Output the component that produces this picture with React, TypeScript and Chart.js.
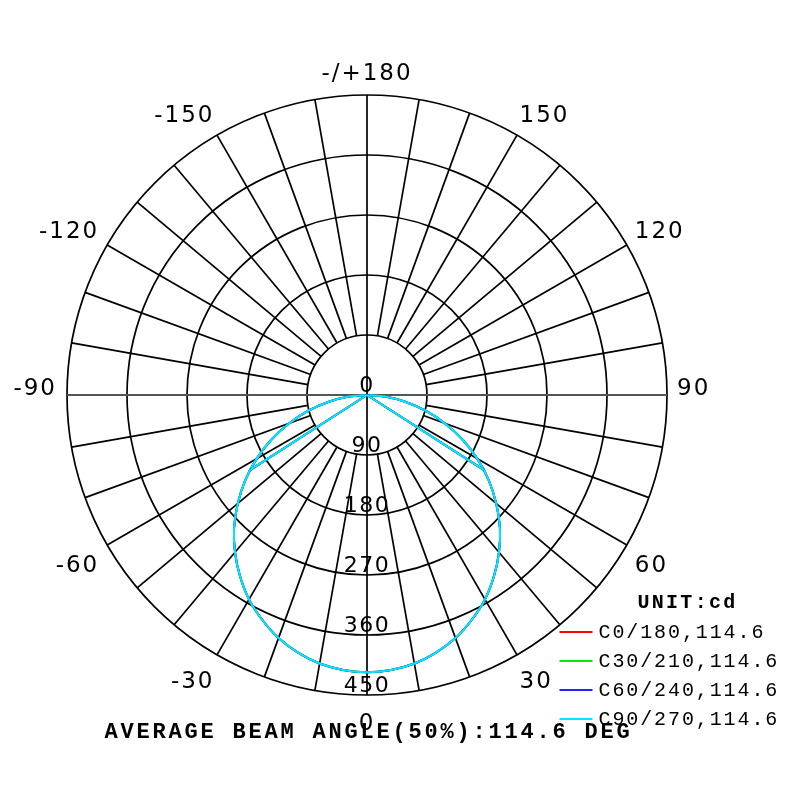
import React, { useEffect, useRef } from "react";
import { Chart, registerables } from "chart.js";

Chart.register(...registerables);

// ---- data -------------------------------------------------------------
// gamma angles (deg) of the measured half-curve, symmetric for each C-plane pair
const gammaAngles = [0, 5, 10, 15, 20, 25, 30, 35, 40, 45, 50, 55, 60, 65, 70, 75, 80, 85, 90];
const c0_180 = [416, 414, 409, 400, 388, 372, 354, 332, 308, 282, 253, 223, 191, 158, 124, 91, 58, 27, 0];
const c30_210 = [416, 414, 409, 400, 388, 372, 354, 332, 308, 282, 253, 223, 191, 158, 124, 91, 58, 27, 0];
const c60_240 = [416, 414, 409, 400, 388, 372, 354, 332, 308, 282, 253, 223, 191, 158, 124, 91, 58, 27, 0];
const c90_270 = [416, 414, 409, 400, 388, 372, 354, 332, 308, 282, 253, 223, 191, 158, 124, 91, 58, 27, 0];

const seriesNames = ["C0/180", "C30/210", "C60/240", "C90/270"];
const seriesColors = ["#ff0000", "#00ee00", "#2020ff", "#00e8ff"];
const beamAngles = [114.6, 114.6, 114.6, 114.6];

const ringTicks = [0, 90, 180, 270, 360, 450];
const angleLabelValues = [0, 30, 60, 90, 120, 150, 180, -150, -120, -90, -60, -30];
const angleLabelTexts = ["0", "30", "60", "90", "120", "150", "-/+180", "-150", "-120", "-90", "-60", "-30"];
const unitLabel = "UNIT:cd";
const titleText = "AVERAGE BEAM ANGLE(50%):114.6 DEG";

const sampleStep = 5; // degrees between radar spokes
const gridStep = 10; // degrees between drawn radial grid lines

// ---- helpers ----------------------------------------------------------
const spokeCount = 360 / sampleStep;
// spoke i sits i*sampleStep degrees clockwise from top; top is 180, bottom is 0
const spokeAngles = Array.from({ length: spokeCount }, (_, i) => 180 - i * sampleStep);

function buildSeries(values: number[]) {
  return spokeAngles.map((a) => {
    const k = gammaAngles.indexOf(Math.abs(a));
    return k >= 0 ? values[k] : 0;
  });
}

// fractional spoke index for a reference angle
function idxFor(a: number) {
  let phi = 180 - a;
  phi = ((phi % 360) + 360) % 360;
  return phi / sampleStep;
}

const allSeries = [c0_180, c30_210, c60_240, c90_270];

const polarPlugin = {
  id: "photometricPolar",
  beforeDatasetsDraw(chart: any) {
    const scale = chart.scales.r;
    const ctx = chart.ctx;
    ctx.save();
    for (let a = -180; a < 180; a += gridStep) {
      const through = a % 90 === 0;
      const i = idxFor(a);
      const p0 = scale.getPointPositionForValue(i, through ? 0 : ringTicks[1]);
      const p1 = scale.getPointPositionForValue(i, scale.max);
      ctx.beginPath();
      ctx.moveTo(p0.x, p0.y);
      ctx.lineTo(p1.x, p1.y);
      const horizontal = Math.abs(a) === 90;
      ctx.strokeStyle = horizontal ? "#555" : "#000";
      ctx.lineWidth = horizontal ? 2.2 : 1.7;
      ctx.stroke();
    }
    ctx.restore();
  },
  afterDatasetsDraw(chart: any) {
    const scale = chart.scales.r;
    const ctx = chart.ctx;
    ctx.save();
    // beam angle (50%) lines, in dataset order so the last plane is on top
    allSeries.forEach((vals, s) => {
      const half = beamAngles[s] / 2;
      const peak = Math.max(...vals);
      ctx.strokeStyle = seriesColors[s];
      ctx.lineWidth = 2;
      [half, -half].forEach((a) => {
        const c = scale.getPointPositionForValue(0, 0);
        const p = scale.getPointPositionForValue(idxFor(a), peak / 2);
        ctx.beginPath();
        ctx.moveTo(c.x, c.y);
        ctx.lineTo(p.x, p.y);
        ctx.stroke();
      });
    });
    ctx.restore();
  },
  afterDraw(chart: any) {
    const scale = chart.scales.r;
    const ctx = chart.ctx;
    ctx.save();
    ctx.fillStyle = "#000";

    // ring value labels along the 0-degree axis
    ctx.font = "22px 'DejaVu Sans'";
    (ctx as any).letterSpacing = "1.5px";
    ctx.textAlign = "center";
    ctx.textBaseline = "alphabetic";
    ringTicks.forEach((v) => {
      const p = scale.getPointPositionForValue(idxFor(0), v);
      ctx.fillText(String(v), p.x, p.y - 3);
    });

    // angle labels
    const fs = 23;
    ctx.font = fs + "px 'DejaVu Sans'";
    (ctx as any).letterSpacing = "2px";
    const capH = 0.729 * fs;
    angleLabelValues.forEach((a, k) => {
      const txt = angleLabelTexts[k];
      const t = (a * Math.PI) / 180;
      const s = Math.sin(t);
      const c = Math.cos(t);
      const p = scale.getPointPosition(idxFor(a), scale.drawingArea + 15);
      let x = p.x;
      if (Math.abs(s) < 0.01) {
        ctx.textAlign = "center";
      } else if (s > 0) {
        ctx.textAlign = "left";
        x = p.x - 5;
      } else {
        ctx.textAlign = "right";
        x = p.x + 5;
      }
      const y = c > 0.01 ? p.y + 3 + capH : p.y;
      ctx.fillText(txt, x, y);
    });

    // legend
    const area = chart.chartArea;
    const lx0 = area.right - 108;
    const lx1 = area.right - 75;
    const top = area.bottom - 92;
    ctx.textBaseline = "middle";
    ctx.font = "bold 20px 'Liberation Mono'";
    (ctx as any).letterSpacing = "2.3px";
    ctx.textAlign = "center";
    ctx.fillText(unitLabel, lx0 + 128, top);
    ctx.font = "20px 'Liberation Mono'";
    (ctx as any).letterSpacing = "1.9px";
    ctx.textAlign = "left";
    seriesNames.forEach((name, s) => {
      const y = top + 29 * (s + 1);
      ctx.strokeStyle = seriesColors[s];
      ctx.lineWidth = 2;
      ctx.beginPath();
      ctx.moveTo(lx0, y);
      ctx.lineTo(lx1, y);
      ctx.stroke();
      ctx.fillText(name + "," + beamAngles[s].toFixed(1), lx1 + 6, y + 1);
    });

    // title under the diagram
    ctx.font = "bold 22px 'Liberation Mono'";
    (ctx as any).letterSpacing = "2.8px";
    ctx.textAlign = "left";
    ctx.textBaseline = "alphabetic";
    ctx.fillText(titleText, area.left + 37, area.bottom + 43);
    ctx.restore();
  },
};

export default function App() {
  const ref = useRef<HTMLCanvasElement | null>(null);

  useEffect(() => {
    if (!ref.current) return;
    const chart = new Chart(ref.current, {
      type: "radar",
      data: {
        labels: spokeAngles.map(String),
        datasets: allSeries.map((vals, s) => ({
          label: seriesNames[s],
          data: buildSeries(vals),
          borderColor: seriesColors[s],
          backgroundColor: "transparent",
          borderWidth: 2,
          pointRadius: 0,
          pointHoverRadius: 0,
          fill: false,
          tension: 0.3,
          order: allSeries.length - s,
        })),
      },
      options: {
        animation: false,
        responsive: true,
        maintainAspectRatio: false,
        layout: { padding: { left: 67.5, top: 95, right: 132.5, bottom: 105 } },
        plugins: { legend: { display: false }, tooltip: { enabled: false }, title: { display: false } },
        scales: {
          r: {
            min: 0,
            max: 450,
            startAngle: 0,
            ticks: { display: false, stepSize: 90 },
            grid: { circular: true, color: "#000", lineWidth: 1.7 },
            angleLines: { display: false },
            pointLabels: { display: false },
          },
        },
      },
      plugins: [polarPlugin],
    } as any);
    return () => chart.destroy();
  }, []);

  return (
    <div style={{ position: "absolute", left: 0, top: 0, width: 800, height: 800, background: "#fff" }}>
      <canvas ref={ref} />
    </div>
  );
}
